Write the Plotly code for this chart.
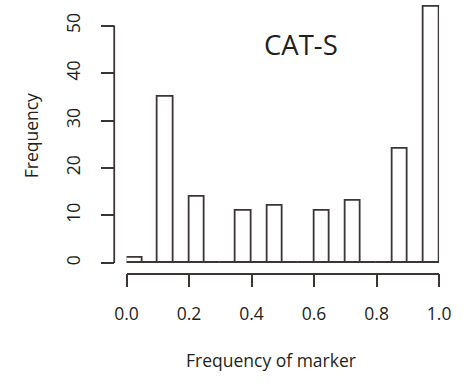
import plotly.graph_objects as go

# Histogram of marker frequencies (bins of width 0.05)
bin_left = [0.00, 0.05, 0.10, 0.15, 0.20, 0.25, 0.30, 0.35, 0.40, 0.45,
            0.50, 0.55, 0.60, 0.65, 0.70, 0.75, 0.80, 0.85, 0.90, 0.95]
counts = [1, 0, 35, 0, 14, 0, 0, 11, 0, 12,
          0, 0, 11, 0, 13, 0, 0, 24, 0, 54]
bin_width = 0.05
x_ticks = [0.0, 0.2, 0.4, 0.6, 0.8, 1.0]
x_tick_text = ["0.0", "0.2", "0.4", "0.6", "0.8", "1.0"]
y_ticks = [0, 10, 20, 30, 40, 50]
title_text = "CAT-S"
x_title = "Frequency of marker"
y_title = "Frequency"

W, H = 471, 383
LINE = "#3b3634"
TEXT = "#231f20"
FONT = "Open Sans"

centers = [b + bin_width / 2 for b in bin_left]

fig = go.Figure()
# baseline formed by the empty bins
fig.add_trace(go.Scatter(
    x=[bin_left[0], bin_left[-1] + bin_width], y=[0, 0],
    mode="lines", line=dict(color=LINE, width=1.8),
    hoverinfo="skip", showlegend=False, cliponaxis=False))
fig.add_trace(go.Bar(
    x=centers, y=counts, width=bin_width,
    marker=dict(color="white", line=dict(color=LINE, width=1.8)),
    cliponaxis=False, showlegend=False))

# pixel geometry of the plotting region
px_x0, px_x1 = 120.7, 450.0      # x = 0 and x = 1
px_y0, px_y50 = 264.3, 25.7      # y = 0 and y = 50
px_per_unit = (px_y0 - px_y50) / 50
y_top = 55
px_ytop = px_y0 - y_top * px_per_unit
px_xaxis = 275.0                 # detached x axis line
px_yaxis = 107.7                 # detached y axis line

fig.update_layout(
    width=W, height=H,
    margin=dict(l=0, r=0, t=0, b=0),
    paper_bgcolor="white", plot_bgcolor="rgba(0,0,0,0)",
    bargap=0,
    font=dict(family=FONT, color=TEXT, size=17),
    xaxis=dict(
        domain=[px_x0 / W, px_x1 / W], range=[0, 1],
        anchor="free", position=(H - px_xaxis) / H,
        showline=True, linecolor=LINE, linewidth=1.8,
        ticks="outside", ticklen=13, tickwidth=1.8, tickcolor=LINE,
        tickvals=x_ticks, ticktext=x_tick_text, ticklabelstandoff=12,
        tickfont=dict(size=17.5, family=FONT, color=TEXT),
        showgrid=False, zeroline=False),
    yaxis=dict(
        domain=[(H - px_y0) / H, (H - px_ytop) / H], range=[0, y_top],
        anchor="free", position=px_yaxis / W,
        showline=False,
        ticks="outside", ticklen=13, tickwidth=1.8, tickcolor=LINE,
        tickvals=y_ticks, tickangle=-90, ticklabelstandoff=14,
        tickfont=dict(size=17.5, family=FONT, color=TEXT),
        showgrid=False, zeroline=False),
    shapes=[
        # y axis line spanning the labelled ticks only
        dict(type="line", xref="paper", yref="y",
             x0=px_yaxis / W, x1=px_yaxis / W,
             y0=min(y_ticks), y1=max(y_ticks),
             line=dict(color=LINE, width=1.8)),
    ],
    annotations=[
        dict(text=title_text, x=305 / W, y=(H - 45) / H, xref="paper", yref="paper",
             showarrow=False, xanchor="center", yanchor="middle",
             font=dict(size=27.5, family=FONT, color=TEXT)),
        dict(text=x_title, x=273 / W, y=(H - 362) / H, xref="paper", yref="paper",
             showarrow=False, xanchor="center", yanchor="middle",
             font=dict(size=17.5, family=FONT, color=TEXT)),
        dict(text=y_title, x=20 / W, y=(H - 136) / H, xref="paper", yref="paper",
             showarrow=False, xanchor="center", yanchor="middle", textangle=-90,
             font=dict(size=17.5, family=FONT, color=TEXT)),
    ],
)

fig.write_html("out.html")
